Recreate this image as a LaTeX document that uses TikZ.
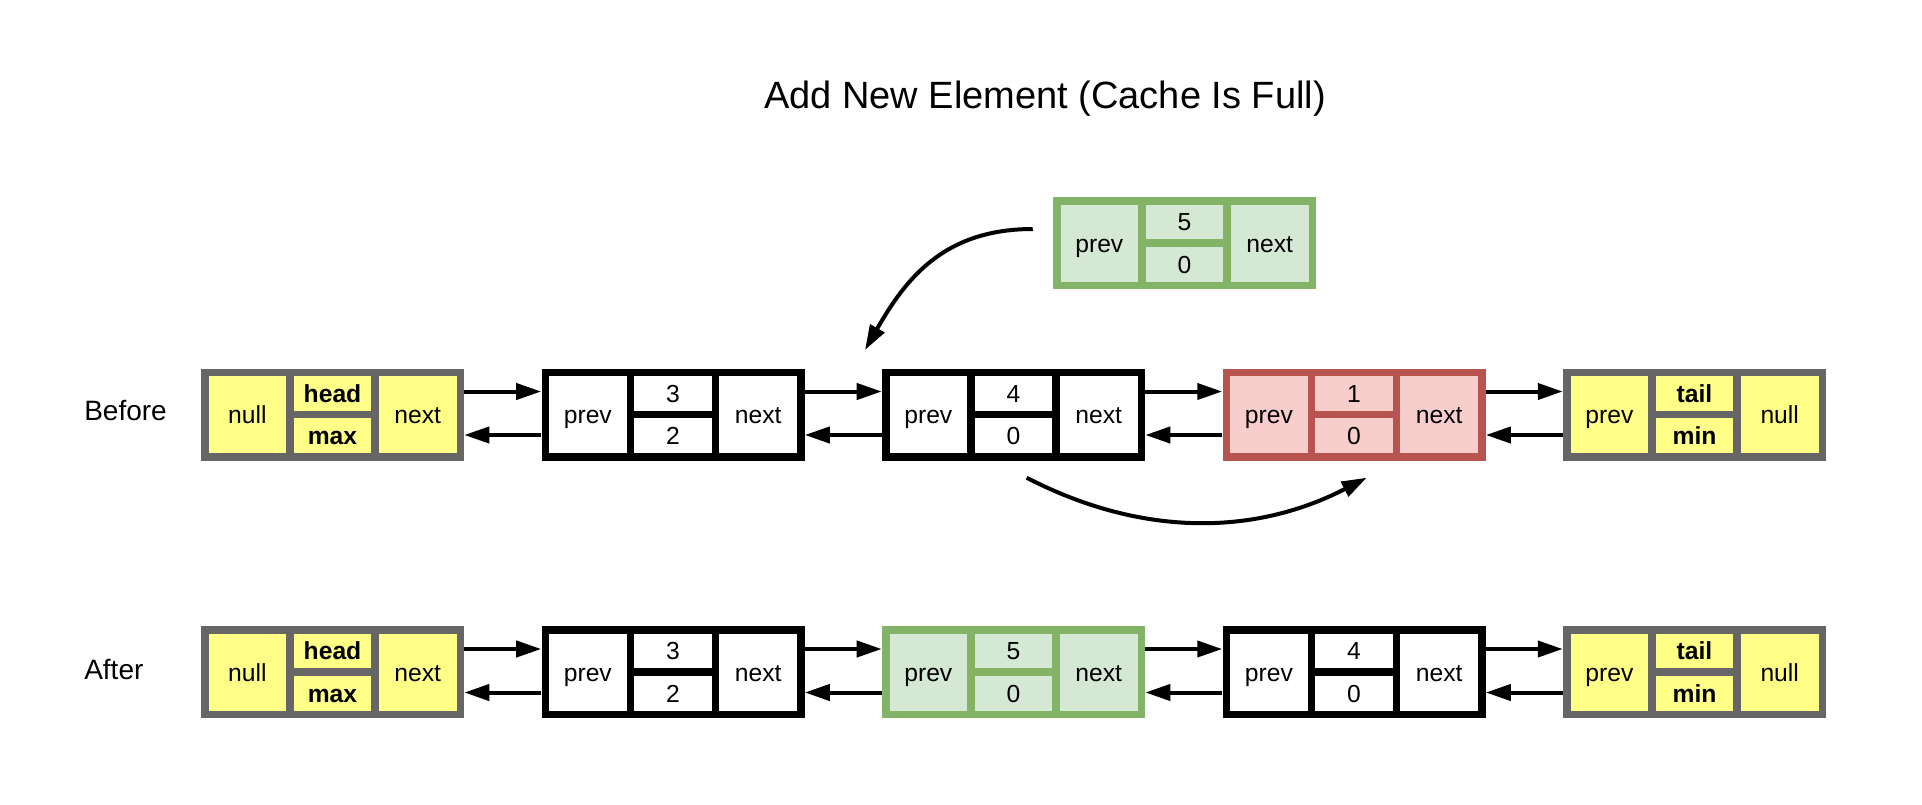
\documentclass[tikz,border=0pt]{standalone}
\usepackage{fontspec}
\setmainfont{Liberation Sans}
\usetikzlibrary{arrows.meta,calc}
\definecolor{ylw}{HTML}{FFFF88}
\definecolor{ylwB}{HTML}{666666}
\definecolor{grn}{HTML}{D5E8D4}
\definecolor{grnB}{HTML}{82B366}
\definecolor{rd}{HTML}{F8CECC}
\definecolor{rdB}{HTML}{B85450}
\newcommand\cellfont{\fontsize{18.5pt}{22pt}\selectfont}
\newcommand\lblfont{\fontsize{21pt}{25pt}\selectfont}
\newcommand\ttlfont{\fontsize{28.5pt}{34pt}\selectfont}
\tikzset{
  outerbox/.style={draw=none, inner sep=0pt, minimum width=197.25pt, minimum height=69pt},
  cellbase/.style={draw=none, inner sep=0pt, minimum width=58.25pt, text height=13.5pt, text depth=0pt, font=\cellfont},
  fullcell/.style={cellbase, minimum height=57.75pt},
  halfcell/.style={cellbase, minimum height=26.06pt},
  link/.style={line width=3pt, -{Triangle[length=18.75pt,width=12pt]}},
  lbl/.style={anchor=base west, inner sep=0pt, font=\lblfont},
}
\newcommand\dllnode[8]{%
  \node[outerbox, fill=#4] (#1) at #2 {};
  \node[fullcell, fill=#3] (#1-l) at ($(#1)+(-85.17,0)$) {#5};
  \node[halfcell, fill=#3] (#1-t) at ($(#1)+(0,-21.125)$) {#6};
  \node[halfcell, fill=#3] (#1-b) at ($(#1)+(0,21.125)$) {#7};
  \node[fullcell, fill=#3] (#1-r) at ($(#1)+(85.17,0)$) {#8};
}
\begin{document}
\begin{tikzpicture}[x=0.75pt, y=-0.75pt]
\useasboundingbox[fill=white] (0,0) rectangle (1922,804);

\node[anchor=base, inner sep=0pt, font=\ttlfont] (title) at (1045,108) {Add New Element (Cache Is Full)};
\node[lbl] (before) at (84,420) {Before};
\node[lbl] (after) at (84,679) {After};

% new element
\dllnode{new}{(1184.5,243)}{grn}{grnB}{prev}{5}{0}{next}

% before row
\dllnode{bh}{(332.5,414.5)}{ylw}{ylwB}{null}{\textbf{head}}{\textbf{max}}{next}
\dllnode{b3}{(673,414.5)}{white}{black}{prev}{3}{2}{next}
\dllnode{b4}{(1013.5,414.5)}{white}{black}{prev}{4}{0}{next}
\dllnode{b1}{(1354,414.5)}{rd}{rdB}{prev}{1}{0}{next}
\dllnode{bt}{(1694.5,414.5)}{ylw}{ylwB}{prev}{\textbf{tail}}{\textbf{min}}{null}

% after row
\dllnode{ah}{(332.5,672)}{ylw}{ylwB}{null}{\textbf{head}}{\textbf{max}}{next}
\dllnode{a3}{(673,672)}{white}{black}{prev}{3}{2}{next}
\dllnode{a5}{(1013.5,672)}{grn}{grnB}{prev}{5}{0}{next}
\dllnode{a4}{(1354,672)}{white}{black}{prev}{4}{0}{next}
\dllnode{at}{(1694.5,672)}{ylw}{ylwB}{prev}{\textbf{tail}}{\textbf{min}}{null}

% links
\foreach \p/\q in {bh/b3, b3/b4, b4/b1, b1/bt, ah/a3, a3/a5, a5/a4, a4/at}{
  \draw[link] ($(\p.east)+(0,-23)$) -- ($(\q.west)+(0,-23)$);
  \draw[link] ($(\q.west)+(0,20.5)$) -- ($(\p.east)+(0,20.5)$);
}

% curved arrows
\coordinate (insS) at ($(new.west)+(-20,-14)$);
\coordinate (insE) at (865,350);
\draw[link] (insS) .. controls (943,229) and (905,280) .. (insE);
\coordinate (rmS) at (1026.7,477.7);
\coordinate (rmE) at (1366.7,477.7);
\draw[link] (rmS) .. controls (1140,536.4) and (1253.3,536.4) .. (rmE);
\end{tikzpicture}
\end{document}
